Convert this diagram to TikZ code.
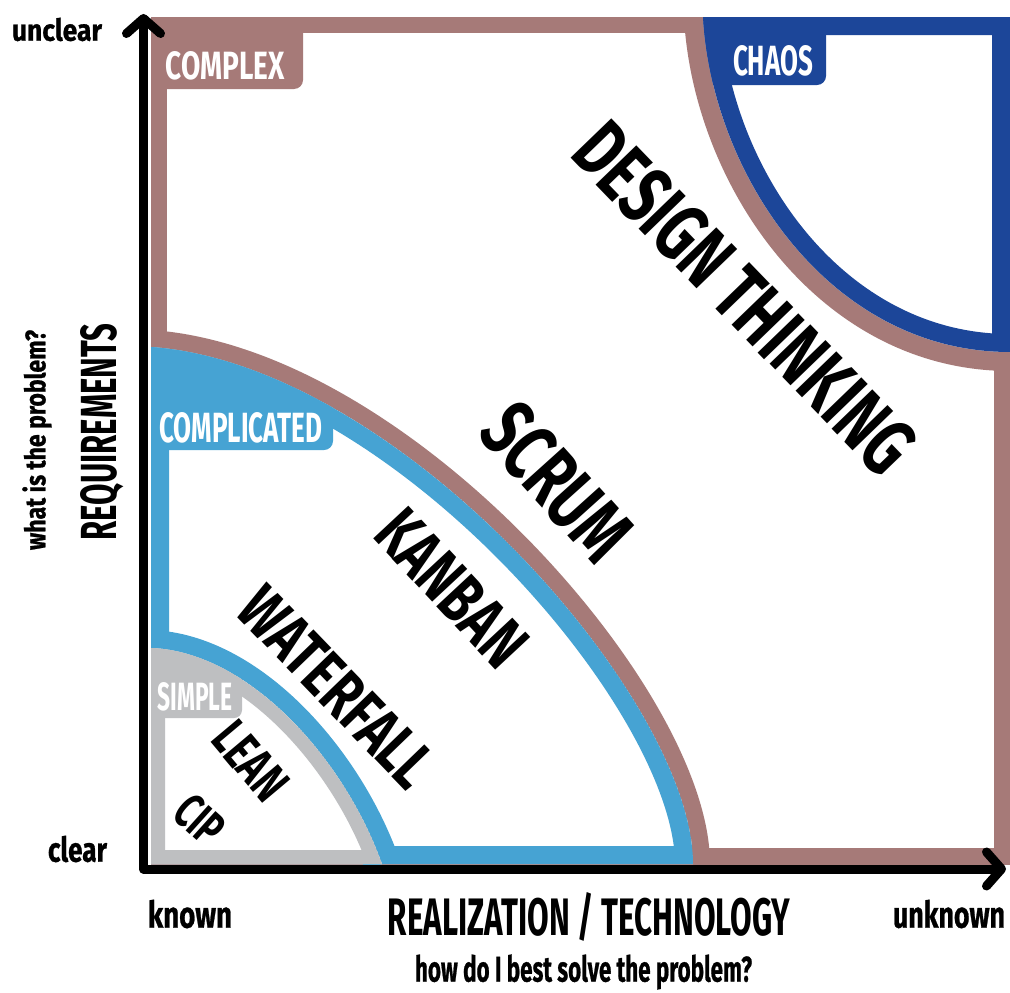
\documentclass[tikz,border=0pt]{standalone}
\usepackage{fontspec}
\usepackage{graphicx}
\usetikzlibrary{arrows.meta}
\newfontfamily\markerfont{Fira Sans}
\newfontfamily\handfont{Fira Sans}[FakeBold=0.9]
\newcommand\fitbox[3]{\resizebox{#1}{#2}{\markerfont\bfseries #3}}
\newcommand\handbox[3]{\resizebox{#1}{#2}{\handfont\bfseries #3}}
\definecolor{cxbrown}{HTML}{A67A78}
\definecolor{chaosblue}{HTML}{1C4699}
\definecolor{cplblue}{HTML}{46A3D3}
\definecolor{simplegray}{HTML}{BEBFC1}
\begin{document}
\begin{tikzpicture}[x=1pt,y=-1pt,
  txt/.style={inner sep=0pt,outer sep=0pt},
  tag/.style={txt,text=white},
  word/.style={txt,text=black},
  axisline/.style={line width=9pt,line join=round,
    {Straight Barb[length=15pt,width=34pt,round]}-{Straight Barb[length=15pt,width=34pt,round]}}
]
\useasboundingbox (0,0) rectangle (1010,993);
% region outlines
\def\complexR{(151,17) rectangle (1010,864)}
\def\chaosC{(703,17) .. controls (712,175) and (830,352) .. (1010,352)}
\def\chaosR{\chaosC -- (1010,17) -- cycle}
\def\cplC{(151,347) .. controls (400,365) and (693,700) .. (693,864)}
\def\cplR{\cplC -- (151,864) -- cycle}
\def\simC{(151,648) .. controls (250,652) and (345,760) .. (382,864)}
\def\simR{\simC -- (151,864) -- cycle}

\begin{scope}
  \clip \complexR;
  % complex
  \fill[white] \complexR;
  \draw[cxbrown,line width=32pt] \complexR;
  \fill[cxbrown,rounded corners=9pt] (140,5) -- (303,5) -- (303,89) -- (140,89) -- cycle;
  % chaos
  \draw[cxbrown,line width=38pt] \chaosC;
  \begin{scope}
    \clip \chaosR;
    \fill[white] \chaosR;
    \draw[chaosblue,line width=36pt] \chaosR;
    \fill[chaosblue,rounded corners=9pt] (690,5) -- (826,5) -- (826,85) -- (690,85) -- cycle;
  \end{scope}
  % complicated
  \draw[cxbrown,line width=34pt] \cplC;
  \begin{scope}
    \clip \cplR;
    \fill[white] \cplR;
    \draw[cplblue,line width=36pt] \cplR;
    \fill[cplblue,rounded corners=9pt] (140,340) -- (333,340) -- (333,450) -- (140,450) -- cycle;
  \end{scope}
  % simple
  \draw[cplblue,line width=36pt] \simC;
  \begin{scope}
    \clip \simR;
    \fill[white] \simR;
    \draw[simplegray,line width=28pt] \simR;
    \fill[simplegray,rounded corners=8pt] (140,640) -- (242,640) -- (242,718) -- (140,718) -- cycle;
  \end{scope}
\end{scope}

% axes
\draw[axisline] (143.5,14) -- (143.5,869) -- (1006,869);

% region tags
\node[tag] (complex) at (225,66) {\fitbox{119pt}{28pt}{COMPLEX}};
\node[tag] (chaos) at (773,61) {\fitbox{80pt}{30pt}{CHAOS}};
\node[tag] (complicated) at (241,428) {\fitbox{163pt}{30pt}{COMPLICATED}};
\node[tag] (simple) at (195,697) {\fitbox{75pt}{28pt}{SIMPLE}};

% methods
\node[word,rotate=-46] (design) at (745,298) {\fitbox{450pt}{58pt}{DESIGN THINKING}};
\node[word,rotate=-48] (scrum) at (557,482) {\fitbox{178pt}{58pt}{SCRUM}};
\node[word,rotate=-47] (kanban) at (452,588) {\fitbox{185pt}{48pt}{KANBAN}};
\node[word,rotate=-46] (waterfall) at (337,687) {\fitbox{250pt}{46pt}{WATERFALL}};
\node[word,rotate=-50] (lean) at (251,761) {\fitbox{84pt}{37pt}{LEAN}};
\node[word,rotate=-42] (cip) at (200,820) {\fitbox{48pt}{35pt}{CIP}};

% axis labels
\node[word] (unclear) at (57,29.5) {\handbox{90pt}{23pt}{unclear}};
\node[word] (clear) at (77.5,849) {\handbox{59pt}{26pt}{clear}};
\node[word] (known) at (190,914) {\handbox{84pt}{28pt}{known}};
\node[word] (unknown) at (949,914) {\handbox{112pt}{28pt}{unknown}};
\node[word] (realization) at (589,917) {\fitbox{402pt}{43pt}{REALIZATION / TECHNOLOGY}};
\node[word] (how) at (583.5,972) {\handbox{337pt}{27pt}{how do I best solve the problem?}};
\node[word,rotate=90] (requirements) at (102,432) {\fitbox{217pt}{36pt}{REQUIREMENTS}};
\node[word,rotate=90] (what) at (37,440) {\handbox{220pt}{23pt}{what is the problem?}};
\end{tikzpicture}
\end{document}
